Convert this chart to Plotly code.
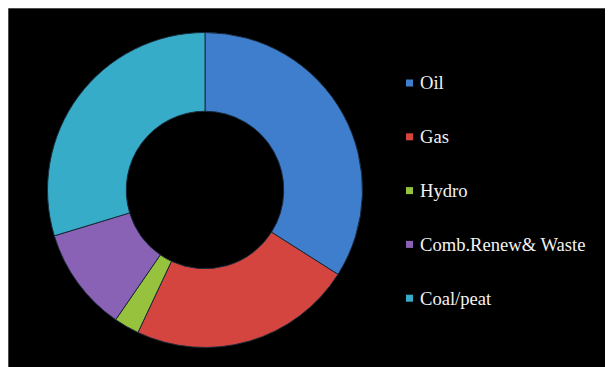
import plotly.graph_objects as go

labels = ["Oil", "Gas", "Hydro", "Comb.Renew& Waste", "Coal/peat"]
values = [34.0, 23.0, 2.6, 10.7, 29.7]
colors = ["#3e7ecd", "#d4453f", "#96c23e", "#8a62b5", "#37acc9"]

# page body has an 8px margin; figure fills the rest of the window
OX, OY = 8, 8
W, H = 613 - OX, 367 - OY
cx, cy, R = 205 - OX, 190 - OY, 157.5

fig = go.Figure(go.Pie(
    labels=labels, values=values, sort=False, direction="clockwise", rotation=0,
    hole=0.5, textinfo="none", showlegend=False,
    marker=dict(colors=colors, line=dict(color="#1a2a3a", width=1)),
    domain=dict(x=[(cx - R) / W, (cx + R) / W],
                y=[(H - cy - R) / H, (H - cy + R) / H]),
))

shapes = [
    dict(type="line", xref="paper", yref="paper", x0=0, x1=1, y0=1, y1=1,
         line=dict(color="#999999", width=1), layer="above"),
    dict(type="line", xref="paper", yref="paper", x0=0, x1=0, y0=0, y1=1,
         line=dict(color="#999999", width=1), layer="above"),
]
annotations = []
y0, dy = 83 - OY, 53.8
for i, (lab, col) in enumerate(zip(labels, colors)):
    yc = y0 + i * dy
    shapes.append(dict(type="rect", xref="paper", yref="paper",
                       x0=(406 - OX) / W, x1=(413 - OX) / W,
                       y0=1 - (yc + 3.5) / H, y1=1 - (yc - 3.5) / H,
                       fillcolor=col, line=dict(color=col, width=0)))
    annotations.append(dict(xref="paper", yref="paper", x=(418 - OX) / W, y=1 - yc / H,
                            xanchor="left", yanchor="middle", text=lab, showarrow=False,
                            font=dict(family="Liberation Serif, Times New Roman, serif",
                                      size=18.6, color="#f2f2f2")))

fig.update_layout(width=W, height=H, margin=dict(l=0, r=0, t=0, b=0),
                  paper_bgcolor="black", plot_bgcolor="black",
                  shapes=shapes, annotations=annotations)
fig.write_html("out.html")
